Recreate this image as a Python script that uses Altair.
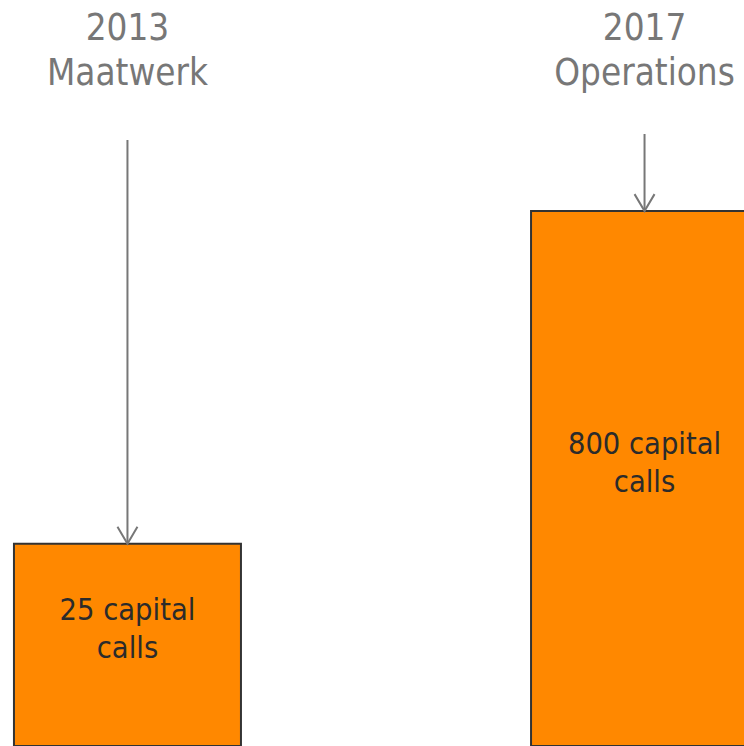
import altair as alt
import pandas as pd

categories = ["2013\nMaatwerk", "2017\nOperations"]
bar_labels = ["25 capital\ncalls", "800 capital\ncalls"]
bar_height = [27.1, 71.7]  # relative bar height (0-100)

df = pd.DataFrame({
    "cat": categories,
    "label": bar_labels,
    "h": bar_height,
})
df["mid"] = df["h"] / 2

FONT = "DejaVu Sans Condensed"
GRAY = "#777777"

x = alt.X("cat:N", sort=categories, axis=None,
          scale=alt.Scale(range=[0, 772], paddingInner=0.561, paddingOuter=0.027))
yscale = alt.Scale(domain=[0, 100])

base = alt.Chart(df)

bars = base.mark_bar(color="#FF8800", stroke="#333333", strokeWidth=2).encode(
    x=x,
    y=alt.Y("h:Q", scale=yscale, axis=None),
    y2=alt.datum(0),
)

bar_text = base.mark_text(font=FONT, fontSize=30.5, color="#2b2b2b",
                          lineBreak="\n", lineHeight=38, baseline="middle",
                          dy=-34).encode(
    x=x,
    y=alt.Y("mid:Q", scale=yscale),
    text="label:N",
)

top_text = base.mark_text(font=FONT, fontSize=36.5, color=GRAY,
                          lineBreak="\n", lineHeight=45,
                          baseline="alphabetic").encode(
    x=x,
    y=alt.value(40),
    text="cat:N",
)

arrows = alt.Chart(df[df["cat"] == categories[0]]).mark_rule(
    color=GRAY, strokeWidth=2).encode(
    x=x,
    y=alt.Y("h:Q", scale=yscale),
    y2=alt.value(140),
)
arrows2 = alt.Chart(df[df["cat"] == categories[1]]).mark_rule(
    color=GRAY, strokeWidth=2).encode(
    x=x,
    y=alt.Y("h:Q", scale=yscale),
    y2=alt.value(134),
)

heads = base.mark_point(shape="M -1 -1.7 L 0 0 L 1 -1.7", filled=False,
                        stroke=GRAY, strokeWidth=2, size=400, opacity=1).encode(
    x=x,
    y=alt.Y("h:Q", scale=yscale),
)

chart = alt.layer(bars, bar_text, arrows, arrows2, heads, top_text).properties(
    width=744, height=746,
    autosize=alt.AutoSizeParams(type="none"),
    padding=0,
).configure_view(stroke=None)

chart.save("out.html", embed_options={"renderer": "svg", "actions": False})
